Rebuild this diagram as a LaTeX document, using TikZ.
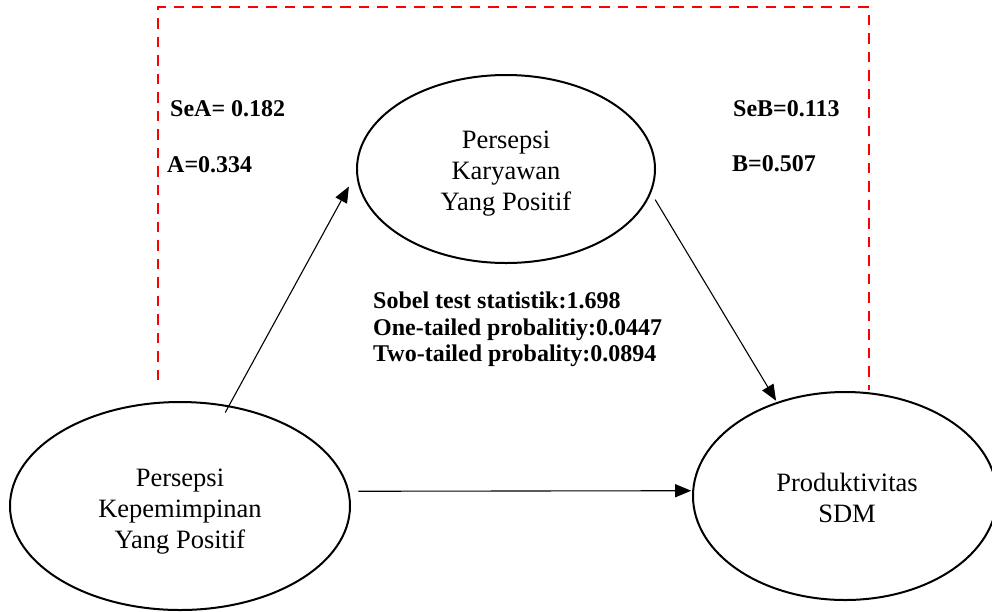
\documentclass[tikz,border=0pt]{standalone}
\usepackage{fontspec}
\setmainfont{Liberation Serif}
\usetikzlibrary{arrows.meta,shapes.geometric}
\begin{document}
\begin{tikzpicture}[x=1pt,y=-1pt,
  ell/.style={draw=black, line width=2pt, ellipse, inner sep=0pt, outer sep=0pt},
  etext/.style={font=\fontsize{26.5}{31}\selectfont, align=center, inner sep=0pt, anchor=base},
  lbl/.style={font=\fontsize{24}{27}\selectfont\bfseries, inner sep=0pt, anchor=base west},
  conn/.style={line width=1.1pt, -{Triangle[length=16pt,width=13pt]}},
  redbox/.style={draw=red, line width=2.6pt, dash pattern=on 10.5pt off 8pt}]
\useasboundingbox (0,0) rectangle (992,611);
% dashed frame
\coordinate (f1) at (158,380);
\coordinate (f2) at (158,7);
\coordinate (f3) at (869,7);
\coordinate (f4) at (869,390);
\draw[redbox] (f1) -- (f2) -- (f3) -- (f4);
% ellipses
\node[ell, minimum width=340pt, minimum height=208pt] (L) at (180,506) {};
\node[ell, minimum width=298pt, minimum height=188pt] (T) at (506,169) {};
\node[ell, minimum width=304pt, minimum height=208pt] (R) at (845,496) {};
% ellipse texts (base anchor = baseline of last line)
\node[etext] (Lt) at (180,548) {Persepsi\\Kepemimpinan\\Yang Positif};
\node[etext] (Tt) at (506,210) {Persepsi\\Karyawan\\Yang Positif};
\node[etext] (Rt) at (847,522) {Produktivitas\\SDM};
% labels
\node[lbl] (sea) at (170,116) {SeA= 0.182};
\node[lbl] (a) at (167,172) {A=0.334};
\node[lbl] (seb) at (733,116) {SeB=0.113};
\node[lbl] (b) at (732,171) {B=0.507};
\node[lbl] (s1) at (373,308) {Sobel test statistik:1.698};
\node[lbl] (s2) at (373,335) {One-tailed probalitiy:0.0447};
\node[lbl] (s3) at (373,361) {Two-tailed probality:0.0894};
% connectors
\draw[conn, shorten <=-7pt, shorten >=17pt] (L.64) -- (T.181);
\draw[conn, shorten <=9pt, shorten >=2.5pt] (T.-9) -- (R.126);
\draw[conn, shorten <=10pt, shorten >=2pt] (L.5) -- (R.178);
\end{tikzpicture}
\end{document}
